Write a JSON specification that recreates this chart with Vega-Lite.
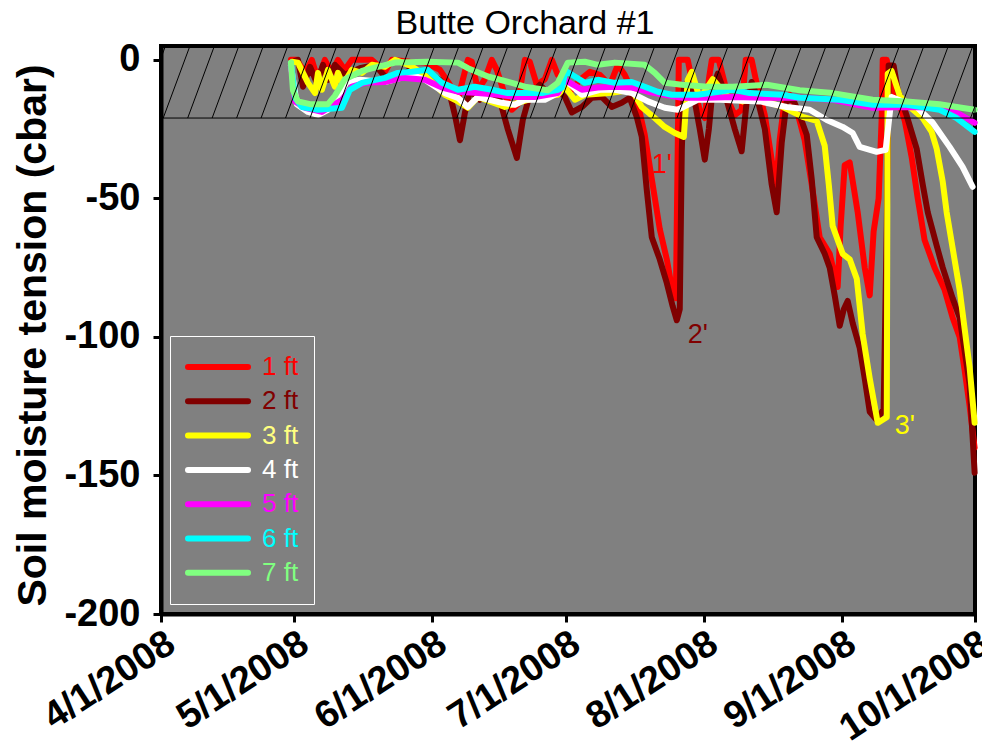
{
  "$schema": "https://vega.github.io/schema/vega-lite/v6.json",
  "width": 814,
  "height": 568,
  "autosize": {"type": "none"},
  "padding": {"left": 161, "top": 46, "right": 7, "bottom": 129},
  "background": "white",
  "config": {
    "font": "Liberation Sans",
    "view": {"fill": "#808080", "stroke": "#000000", "strokeWidth": 4}
  },
  "title": {"text": "Butte Orchard #1", "font": "Liberation Sans", "fontSize": 34, "fontWeight": "normal", "color": "#000000", "anchor": "middle", "offset": 6, "baseline": "bottom", "dx": -43, "dy": 40},
  "datasets": {
    "soil": [
      {"s":"1 ft","d":"2008/04/30 05:00","v":0},{"s":"1 ft","d":"2008/05/01 13:00","v":0},{"s":"1 ft","d":"2008/05/03 09:00","v":-4.7},{"s":"1 ft","d":"2008/05/04 22:00","v":0},{"s":"1 ft","d":"2008/05/06 07:00","v":-7.2},{"s":"1 ft","d":"2008/05/07 20:00","v":0},{"s":"1 ft","d":"2008/05/09 10:00","v":-4.7},{"s":"1 ft","d":"2008/05/10 19:00","v":0},{"s":"1 ft","d":"2008/05/12 08:00","v":-3.6},{"s":"1 ft","d":"2008/05/13 22:00","v":0},{"s":"1 ft","d":"2008/05/18 10:00","v":0},{"s":"1 ft","d":"2008/05/21 08:00","v":-4.3},{"s":"1 ft","d":"2008/05/22 22:00","v":0},{"s":"1 ft","d":"2008/05/26 23:00","v":-0.7},{"s":"1 ft","d":"2008/05/30 08:00","v":-1},{"s":"1 ft","d":"2008/06/02 17:00","v":-3.6},{"s":"1 ft","d":"2008/06/04 23:00","v":-9},{"s":"1 ft","d":"2008/06/06 18:00","v":-14.4},{"s":"1 ft","d":"2008/06/07 21:00","v":-7},{"s":"1 ft","d":"2008/06/09 00:00","v":0},{"s":"1 ft","d":"2008/06/09 21:00","v":-0.7},{"s":"1 ft","d":"2008/06/11 06:00","v":-10.8},{"s":"1 ft","d":"2008/06/12 19:00","v":-7},{"s":"1 ft","d":"2008/06/14 09:00","v":0},{"s":"1 ft","d":"2008/06/15 12:00","v":-3.6},{"s":"1 ft","d":"2008/06/17 07:00","v":-12.6},{"s":"1 ft","d":"2008/06/18 21:00","v":-18},{"s":"1 ft","d":"2008/06/20 05:00","v":-16},{"s":"1 ft","d":"2008/06/21 19:00","v":0},{"s":"1 ft","d":"2008/06/22 22:00","v":-0.7},{"s":"1 ft","d":"2008/06/24 12:00","v":-9},{"s":"1 ft","d":"2008/06/26 07:00","v":-7},{"s":"1 ft","d":"2008/06/27 21:00","v":0},{"s":"1 ft","d":"2008/06/29 05:00","v":-5.4},{"s":"1 ft","d":"2008/06/30 19:00","v":-7.2},{"s":"1 ft","d":"2008/07/02 09:00","v":-10.8},{"s":"1 ft","d":"2008/07/04 04:00","v":-7.2},{"s":"1 ft","d":"2008/07/06 10:00","v":-4.3},{"s":"1 ft","d":"2008/07/08 16:00","v":-5.4},{"s":"1 ft","d":"2008/07/10 22:00","v":-9},{"s":"1 ft","d":"2008/07/12 17:00","v":-1.8},{"s":"1 ft","d":"2008/07/14 06:00","v":-5.4},{"s":"1 ft","d":"2008/07/15 20:00","v":-10.8},{"s":"1 ft","d":"2008/07/17 05:00","v":-16},{"s":"1 ft","d":"2008/07/18 18:00","v":-27},{"s":"1 ft","d":"2008/07/20 08:00","v":-43},{"s":"1 ft","d":"2008/07/22 03:00","v":-61},{"s":"1 ft","d":"2008/07/23 17:00","v":-72},{"s":"1 ft","d":"2008/07/25 01:00","v":-84},{"s":"1 ft","d":"2008/07/25 18:00","v":-86},{"s":"1 ft","d":"2008/07/26 10:00","v":0},{"s":"1 ft","d":"2008/07/28 10:00","v":0},{"s":"1 ft","d":"2008/07/29 13:00","v":-9},{"s":"1 ft","d":"2008/07/31 03:00","v":-18},{"s":"1 ft","d":"2008/08/01 06:00","v":-21},{"s":"1 ft","d":"2008/08/02 04:00","v":-7},{"s":"1 ft","d":"2008/08/02 20:00","v":0},{"s":"1 ft","d":"2008/08/04 09:00","v":0},{"s":"1 ft","d":"2008/08/05 12:00","v":-7},{"s":"1 ft","d":"2008/08/06 21:00","v":-16},{"s":"1 ft","d":"2008/08/08 00:00","v":-20},{"s":"1 ft","d":"2008/08/09 13:00","v":-18},{"s":"1 ft","d":"2008/08/10 11:00","v":0},{"s":"1 ft","d":"2008/08/11 19:00","v":0},{"s":"1 ft","d":"2008/08/12 17:00","v":-7},{"s":"1 ft","d":"2008/08/14 18:00","v":-20},{"s":"1 ft","d":"2008/08/16 07:00","v":-36},{"s":"1 ft","d":"2008/08/17 05:00","v":-47},{"s":"1 ft","d":"2008/08/18 02:00","v":-29},{"s":"1 ft","d":"2008/08/19 05:00","v":-14.4},{"s":"1 ft","d":"2008/08/20 08:00","v":-12.6},{"s":"1 ft","d":"2008/08/21 22:00","v":-18},{"s":"1 ft","d":"2008/08/23 17:00","v":-29},{"s":"1 ft","d":"2008/08/25 07:00","v":-45},{"s":"1 ft","d":"2008/08/27 02:00","v":-64},{"s":"1 ft","d":"2008/08/29 08:00","v":-70},{"s":"1 ft","d":"2008/08/31 03:00","v":-82},{"s":"1 ft","d":"2008/08/31 19:00","v":-60},{"s":"1 ft","d":"2008/09/01 17:00","v":-38},{"s":"1 ft","d":"2008/09/02 20:00","v":-37},{"s":"1 ft","d":"2008/09/04 15:00","v":-55},{"s":"1 ft","d":"2008/09/06 05:00","v":-75},{"s":"1 ft","d":"2008/09/07 08:00","v":-85},{"s":"1 ft","d":"2008/09/08 05:00","v":-62},{"s":"1 ft","d":"2008/09/09 08:00","v":-50},{"s":"1 ft","d":"2008/09/10 01:00","v":-20},{"s":"1 ft","d":"2008/09/10 06:00","v":0},{"s":"1 ft","d":"2008/09/11 04:00","v":0},{"s":"1 ft","d":"2008/09/12 01:00","v":-9},{"s":"1 ft","d":"2008/09/13 15:00","v":-14},{"s":"1 ft","d":"2008/09/15 05:00","v":-22},{"s":"1 ft","d":"2008/09/16 18:00","v":-35},{"s":"1 ft","d":"2008/09/18 03:00","v":-50},{"s":"1 ft","d":"2008/09/19 16:00","v":-65},{"s":"1 ft","d":"2008/09/21 22:00","v":-75},{"s":"1 ft","d":"2008/09/24 04:00","v":-83},{"s":"1 ft","d":"2008/09/25 23:00","v":-93},{"s":"1 ft","d":"2008/09/27 13:00","v":-100},{"s":"1 ft","d":"2008/09/28 16:00","v":-112},{"s":"1 ft","d":"2008/09/29 19:00","v":-125},{"s":"1 ft","d":"2008/09/30 22:00","v":-140},
      {"s":"2 ft","d":"2008/04/30 11:00","v":-0.7},{"s":"2 ft","d":"2008/05/01 19:00","v":0},{"s":"2 ft","d":"2008/05/02 22:00","v":-9.7},{"s":"2 ft","d":"2008/05/04 12:00","v":-2.5},{"s":"2 ft","d":"2008/05/06 01:00","v":-8.3},{"s":"2 ft","d":"2008/05/07 10:00","v":-1.8},{"s":"2 ft","d":"2008/05/08 13:00","v":-7.2},{"s":"2 ft","d":"2008/05/10 02:00","v":-1.8},{"s":"2 ft","d":"2008/05/12 08:00","v":-5.4},{"s":"2 ft","d":"2008/05/15 17:00","v":-3},{"s":"2 ft","d":"2008/05/19 02:00","v":-1.8},{"s":"2 ft","d":"2008/05/21 08:00","v":-6},{"s":"2 ft","d":"2008/05/23 14:00","v":-7.2},{"s":"2 ft","d":"2008/05/26 23:00","v":-3.6},{"s":"2 ft","d":"2008/05/30 08:00","v":-4.3},{"s":"2 ft","d":"2008/06/02 17:00","v":-7.2},{"s":"2 ft","d":"2008/06/04 23:00","v":-12.6},{"s":"2 ft","d":"2008/06/06 02:00","v":-20},{"s":"2 ft","d":"2008/06/07 05:00","v":-29},{"s":"2 ft","d":"2008/06/08 08:00","v":-19},{"s":"2 ft","d":"2008/06/09 11:00","v":-11},{"s":"2 ft","d":"2008/06/11 16:00","v":-14.4},{"s":"2 ft","d":"2008/06/13 22:00","v":-11},{"s":"2 ft","d":"2008/06/16 04:00","v":-14.4},{"s":"2 ft","d":"2008/06/17 23:00","v":-25},{"s":"2 ft","d":"2008/06/20 00:00","v":-35.4},{"s":"2 ft","d":"2008/06/21 08:00","v":-21.7},{"s":"2 ft","d":"2008/06/22 22:00","v":-12.6},{"s":"2 ft","d":"2008/06/25 04:00","v":-9},{"s":"2 ft","d":"2008/06/27 10:00","v":-12.6},{"s":"2 ft","d":"2008/06/29 16:00","v":-11.5},{"s":"2 ft","d":"2008/06/30 19:00","v":-13.4},{"s":"2 ft","d":"2008/07/02 09:00","v":-19},{"s":"2 ft","d":"2008/07/04 15:00","v":-17},{"s":"2 ft","d":"2008/07/06 20:00","v":-13.7},{"s":"2 ft","d":"2008/07/09 02:00","v":-13.4},{"s":"2 ft","d":"2008/07/11 08:00","v":-17},{"s":"2 ft","d":"2008/07/13 14:00","v":-15.5},{"s":"2 ft","d":"2008/07/15 09:00","v":-13.7},{"s":"2 ft","d":"2008/07/16 23:00","v":-20.6},{"s":"2 ft","d":"2008/07/18 02:00","v":-27.8},{"s":"2 ft","d":"2008/07/19 05:00","v":-47},{"s":"2 ft","d":"2008/07/20 08:00","v":-64},{"s":"2 ft","d":"2008/07/22 03:00","v":-72},{"s":"2 ft","d":"2008/07/23 17:00","v":-80.5},{"s":"2 ft","d":"2008/07/25 01:00","v":-89},{"s":"2 ft","d":"2008/07/25 23:00","v":-94},{"s":"2 ft","d":"2008/07/26 15:00","v":-90},{"s":"2 ft","d":"2008/07/27 02:00","v":-32.5},{"s":"2 ft","d":"2008/07/27 13:00","v":-10},{"s":"2 ft","d":"2008/07/28 10:00","v":-8},{"s":"2 ft","d":"2008/07/30 00:00","v":-15},{"s":"2 ft","d":"2008/07/31 03:00","v":-25},{"s":"2 ft","d":"2008/08/01 06:00","v":-36},{"s":"2 ft","d":"2008/08/02 04:00","v":-25},{"s":"2 ft","d":"2008/08/03 01:00","v":-10},{"s":"2 ft","d":"2008/08/04 04:00","v":-5},{"s":"2 ft","d":"2008/08/05 18:00","v":-12},{"s":"2 ft","d":"2008/08/08 00:00","v":-25},{"s":"2 ft","d":"2008/08/09 13:00","v":-33},{"s":"2 ft","d":"2008/08/10 16:00","v":-15},{"s":"2 ft","d":"2008/08/11 19:00","v":-8},{"s":"2 ft","d":"2008/08/12 22:00","v":-13},{"s":"2 ft","d":"2008/08/14 18:00","v":-25},{"s":"2 ft","d":"2008/08/16 07:00","v":-45},{"s":"2 ft","d":"2008/08/17 10:00","v":-55},{"s":"2 ft","d":"2008/08/18 13:00","v":-30},{"s":"2 ft","d":"2008/08/19 16:00","v":-15},{"s":"2 ft","d":"2008/08/21 01:00","v":-14},{"s":"2 ft","d":"2008/08/22 14:00","v":-20},{"s":"2 ft","d":"2008/08/24 04:00","v":-27},{"s":"2 ft","d":"2008/08/25 07:00","v":-43},{"s":"2 ft","d":"2008/08/26 10:00","v":-64},{"s":"2 ft","d":"2008/08/28 05:00","v":-70},{"s":"2 ft","d":"2008/08/29 08:00","v":-75},{"s":"2 ft","d":"2008/08/30 11:00","v":-85},{"s":"2 ft","d":"2008/08/31 14:00","v":-96},{"s":"2 ft","d":"2008/09/01 12:00","v":-90},{"s":"2 ft","d":"2008/09/02 09:00","v":-87},{"s":"2 ft","d":"2008/09/03 12:00","v":-95},{"s":"2 ft","d":"2008/09/05 02:00","v":-104},{"s":"2 ft","d":"2008/09/06 05:00","v":-115},{"s":"2 ft","d":"2008/09/07 08:00","v":-127},{"s":"2 ft","d":"2008/09/08 22:00","v":-130},{"s":"2 ft","d":"2008/09/10 11:00","v":-126},{"s":"2 ft","d":"2008/09/11 04:00","v":-60},{"s":"2 ft","d":"2008/09/11 14:00","v":-2},{"s":"2 ft","d":"2008/09/12 17:00","v":-2},{"s":"2 ft","d":"2008/09/13 15:00","v":-11},{"s":"2 ft","d":"2008/09/15 15:00","v":-20},{"s":"2 ft","d":"2008/09/17 21:00","v":-32},{"s":"2 ft","d":"2008/09/19 06:00","v":-45},{"s":"2 ft","d":"2008/09/20 09:00","v":-55},{"s":"2 ft","d":"2008/09/22 09:00","v":-67},{"s":"2 ft","d":"2008/09/23 18:00","v":-75},{"s":"2 ft","d":"2008/09/25 23:00","v":-86},{"s":"2 ft","d":"2008/09/27 13:00","v":-93},{"s":"2 ft","d":"2008/09/28 16:00","v":-105},{"s":"2 ft","d":"2008/09/29 19:00","v":-117},{"s":"2 ft","d":"2008/09/30 22:00","v":-149},
      {"s":"3 ft","d":"2008/04/30 11:00","v":-0.7},{"s":"3 ft","d":"2008/05/01 19:00","v":-1},{"s":"3 ft","d":"2008/05/04 01:00","v":-8.3},{"s":"3 ft","d":"2008/05/05 15:00","v":-12},{"s":"3 ft","d":"2008/05/06 07:00","v":-4.7},{"s":"3 ft","d":"2008/05/07 04:00","v":-10.8},{"s":"3 ft","d":"2008/05/08 13:00","v":-3.6},{"s":"3 ft","d":"2008/05/10 02:00","v":-9.7},{"s":"3 ft","d":"2008/05/10 19:00","v":-4.7},{"s":"3 ft","d":"2008/05/11 22:00","v":-9},{"s":"3 ft","d":"2008/05/13 22:00","v":-3.6},{"s":"3 ft","d":"2008/05/16 04:00","v":-4.7},{"s":"3 ft","d":"2008/05/18 10:00","v":-1.8},{"s":"3 ft","d":"2008/05/21 08:00","v":-2.5},{"s":"3 ft","d":"2008/05/23 14:00","v":0},{"s":"3 ft","d":"2008/05/26 23:00","v":-2},{"s":"3 ft","d":"2008/05/30 08:00","v":-5.4},{"s":"3 ft","d":"2008/06/03 20:00","v":-12.6},{"s":"3 ft","d":"2008/06/06 18:00","v":-15},{"s":"3 ft","d":"2008/06/09 00:00","v":-17.3},{"s":"3 ft","d":"2008/06/11 06:00","v":-13.4},{"s":"3 ft","d":"2008/06/17 07:00","v":-17},{"s":"3 ft","d":"2008/06/20 05:00","v":-15.5},{"s":"3 ft","d":"2008/06/24 01:00","v":-13.7},{"s":"3 ft","d":"2008/06/29 05:00","v":-12.6},{"s":"3 ft","d":"2008/06/30 19:00","v":-9.7},{"s":"3 ft","d":"2008/07/03 01:00","v":-14.4},{"s":"3 ft","d":"2008/07/05 07:00","v":-12.6},{"s":"3 ft","d":"2008/07/10 22:00","v":-12},{"s":"3 ft","d":"2008/07/15 20:00","v":-10.8},{"s":"3 ft","d":"2008/07/18 02:00","v":-17},{"s":"3 ft","d":"2008/07/21 00:00","v":-21},{"s":"3 ft","d":"2008/07/23 06:00","v":-24.2},{"s":"3 ft","d":"2008/07/25 12:00","v":-26.4},{"s":"3 ft","d":"2008/07/27 13:00","v":-27.8},{"s":"3 ft","d":"2008/07/28 10:00","v":-7.2},{"s":"3 ft","d":"2008/07/29 08:00","v":-4.3},{"s":"3 ft","d":"2008/07/31 03:00","v":-14},{"s":"3 ft","d":"2008/08/03 01:00","v":-7},{"s":"3 ft","d":"2008/08/06 05:00","v":-13},{"s":"3 ft","d":"2008/08/09 19:00","v":-15},{"s":"3 ft","d":"2008/08/12 22:00","v":-14},{"s":"3 ft","d":"2008/08/18 19:00","v":-17},{"s":"3 ft","d":"2008/08/23 06:00","v":-20.6},{"s":"3 ft","d":"2008/08/26 10:00","v":-22},{"s":"3 ft","d":"2008/08/28 05:00","v":-31},{"s":"3 ft","d":"2008/08/29 03:00","v":-45},{"s":"3 ft","d":"2008/08/30 00:00","v":-60},{"s":"3 ft","d":"2008/09/01 06:00","v":-70},{"s":"3 ft","d":"2008/09/02 20:00","v":-72},{"s":"3 ft","d":"2008/09/04 10:00","v":-79},{"s":"3 ft","d":"2008/09/05 18:00","v":-99},{"s":"3 ft","d":"2008/09/07 08:00","v":-115},{"s":"3 ft","d":"2008/09/09 03:00","v":-131},{"s":"3 ft","d":"2008/09/11 04:00","v":-129},{"s":"3 ft","d":"2008/09/11 09:00","v":-5},{"s":"3 ft","d":"2008/09/12 06:00","v":-4},{"s":"3 ft","d":"2008/09/14 02:00","v":-13},{"s":"3 ft","d":"2008/09/16 08:00","v":-17},{"s":"3 ft","d":"2008/09/19 06:00","v":-21},{"s":"3 ft","d":"2008/09/21 06:00","v":-26},{"s":"3 ft","d":"2008/09/22 09:00","v":-32},{"s":"3 ft","d":"2008/09/23 18:00","v":-44},{"s":"3 ft","d":"2008/09/24 15:00","v":-55},{"s":"3 ft","d":"2008/09/27 13:00","v":-83},{"s":"3 ft","d":"2008/09/29 19:00","v":-111},{"s":"3 ft","d":"2008/09/30 22:00","v":-131},
      {"s":"4 ft","d":"2008/04/30 05:00","v":-2},{"s":"4 ft","d":"2008/05/01 13:00","v":-16},{"s":"4 ft","d":"2008/05/04 01:00","v":-18.8},{"s":"4 ft","d":"2008/05/06 07:00","v":-19.9},{"s":"4 ft","d":"2008/05/08 13:00","v":-18},{"s":"4 ft","d":"2008/05/10 19:00","v":-13.4},{"s":"4 ft","d":"2008/05/12 19:00","v":-8},{"s":"4 ft","d":"2008/05/15 17:00","v":-7.2},{"s":"4 ft","d":"2008/05/21 08:00","v":-8},{"s":"4 ft","d":"2008/05/27 10:00","v":-5.4},{"s":"4 ft","d":"2008/05/30 08:00","v":-7.2},{"s":"4 ft","d":"2008/06/03 20:00","v":-12},{"s":"4 ft","d":"2008/06/06 18:00","v":-13.7},{"s":"4 ft","d":"2008/06/09 00:00","v":-17},{"s":"4 ft","d":"2008/06/11 06:00","v":-13.4},{"s":"4 ft","d":"2008/06/16 15:00","v":-15.5},{"s":"4 ft","d":"2008/06/19 13:00","v":-16.2},{"s":"4 ft","d":"2008/06/21 19:00","v":-14.4},{"s":"4 ft","d":"2008/06/26 07:00","v":-14.4},{"s":"4 ft","d":"2008/06/29 05:00","v":-12},{"s":"4 ft","d":"2008/06/30 19:00","v":-7.2},{"s":"4 ft","d":"2008/07/04 15:00","v":-12.6},{"s":"4 ft","d":"2008/07/08 16:00","v":-10.8},{"s":"4 ft","d":"2008/07/12 01:00","v":-10.8},{"s":"4 ft","d":"2008/07/15 20:00","v":-12},{"s":"4 ft","d":"2008/07/19 11:00","v":-15},{"s":"4 ft","d":"2008/07/23 06:00","v":-17.3},{"s":"4 ft","d":"2008/07/26 04:00","v":-18},{"s":"4 ft","d":"2008/07/28 10:00","v":-16.2},{"s":"4 ft","d":"2008/07/30 16:00","v":-14.4},{"s":"4 ft","d":"2008/08/04 15:00","v":-14.4},{"s":"4 ft","d":"2008/08/13 15:00","v":-15},{"s":"4 ft","d":"2008/08/19 16:00","v":-17},{"s":"4 ft","d":"2008/08/24 20:00","v":-18},{"s":"4 ft","d":"2008/08/28 16:00","v":-21.7},{"s":"4 ft","d":"2008/09/01 06:00","v":-24.2},{"s":"4 ft","d":"2008/09/03 12:00","v":-26.4},{"s":"4 ft","d":"2008/09/05 02:00","v":-31.4},{"s":"4 ft","d":"2008/09/08 22:00","v":-33.2},{"s":"4 ft","d":"2008/09/10 22:00","v":-32.5},{"s":"4 ft","d":"2008/09/12 06:00","v":-13.4},{"s":"4 ft","d":"2008/09/17 21:00","v":-17},{"s":"4 ft","d":"2008/09/21 12:00","v":-22.7},{"s":"4 ft","d":"2008/09/25 07:00","v":-31.4},{"s":"4 ft","d":"2008/09/28 05:00","v":-38.6},{"s":"4 ft","d":"2008/09/30 11:00","v":-45.8},
      {"s":"5 ft","d":"2008/04/30 05:00","v":-2},{"s":"5 ft","d":"2008/05/01 03:00","v":-15},{"s":"5 ft","d":"2008/05/03 09:00","v":-17.3},{"s":"5 ft","d":"2008/05/07 04:00","v":-18.8},{"s":"5 ft","d":"2008/05/11 16:00","v":-14.4},{"s":"5 ft","d":"2008/05/13 22:00","v":-9.7},{"s":"5 ft","d":"2008/05/16 20:00","v":-8.3},{"s":"5 ft","d":"2008/05/21 08:00","v":-8},{"s":"5 ft","d":"2008/05/25 04:00","v":-6.5},{"s":"5 ft","d":"2008/05/30 08:00","v":-7.2},{"s":"5 ft","d":"2008/06/03 04:00","v":-10},{"s":"5 ft","d":"2008/06/06 18:00","v":-11.5},{"s":"5 ft","d":"2008/06/11 06:00","v":-12},{"s":"5 ft","d":"2008/06/15 18:00","v":-12.6},{"s":"5 ft","d":"2008/06/20 05:00","v":-13.4},{"s":"5 ft","d":"2008/06/24 01:00","v":-13.4},{"s":"5 ft","d":"2008/06/29 05:00","v":-12},{"s":"5 ft","d":"2008/06/30 19:00","v":-7.2},{"s":"5 ft","d":"2008/07/04 15:00","v":-10.8},{"s":"5 ft","d":"2008/07/08 05:00","v":-10},{"s":"5 ft","d":"2008/07/12 01:00","v":-9.7},{"s":"5 ft","d":"2008/07/15 20:00","v":-10},{"s":"5 ft","d":"2008/07/19 11:00","v":-11.5},{"s":"5 ft","d":"2008/07/23 06:00","v":-12.6},{"s":"5 ft","d":"2008/07/27 02:00","v":-13.7},{"s":"5 ft","d":"2008/08/01 22:00","v":-13.7},{"s":"5 ft","d":"2008/08/07 13:00","v":-13.4},{"s":"5 ft","d":"2008/08/15 04:00","v":-13.7},{"s":"5 ft","d":"2008/08/22 14:00","v":-13.7},{"s":"5 ft","d":"2008/08/30 00:00","v":-14.4},{"s":"5 ft","d":"2008/09/08 00:00","v":-17.3},{"s":"5 ft","d":"2008/09/15 15:00","v":-17},{"s":"5 ft","d":"2008/09/23 01:00","v":-17.3},{"s":"5 ft","d":"2008/09/26 21:00","v":-19},{"s":"5 ft","d":"2008/09/30 22:00","v":-22.7},
      {"s":"6 ft","d":"2008/04/30 05:00","v":-1},{"s":"6 ft","d":"2008/05/01 03:00","v":-13.7},{"s":"6 ft","d":"2008/05/02 16:00","v":-17},{"s":"6 ft","d":"2008/05/06 07:00","v":-18},{"s":"6 ft","d":"2008/05/11 16:00","v":-17.3},{"s":"6 ft","d":"2008/05/13 11:00","v":-10.8},{"s":"6 ft","d":"2008/05/16 04:00","v":-8.3},{"s":"6 ft","d":"2008/05/21 08:00","v":-6.5},{"s":"6 ft","d":"2008/05/24 06:00","v":-4.7},{"s":"6 ft","d":"2008/05/27 10:00","v":-4.3},{"s":"6 ft","d":"2008/05/31 00:00","v":-3.6},{"s":"6 ft","d":"2008/06/03 04:00","v":-8.3},{"s":"6 ft","d":"2008/06/06 18:00","v":-10.8},{"s":"6 ft","d":"2008/06/10 13:00","v":-9.7},{"s":"6 ft","d":"2008/06/14 09:00","v":-10.8},{"s":"6 ft","d":"2008/06/17 23:00","v":-12},{"s":"6 ft","d":"2008/06/25 15:00","v":-12},{"s":"6 ft","d":"2008/06/29 05:00","v":-10.8},{"s":"6 ft","d":"2008/06/30 03:00","v":-10},{"s":"6 ft","d":"2008/07/01 00:00","v":-4},{"s":"6 ft","d":"2008/07/03 01:00","v":-6},{"s":"6 ft","d":"2008/07/05 07:00","v":-8.3},{"s":"6 ft","d":"2008/07/08 05:00","v":-7.2},{"s":"6 ft","d":"2008/07/12 01:00","v":-8.3},{"s":"6 ft","d":"2008/07/15 20:00","v":-8},{"s":"6 ft","d":"2008/07/18 18:00","v":-9.7},{"s":"6 ft","d":"2008/07/21 16:00","v":-11.5},{"s":"6 ft","d":"2008/07/24 20:00","v":-12.6},{"s":"6 ft","d":"2008/07/30 16:00","v":-12.6},{"s":"6 ft","d":"2008/08/07 13:00","v":-10.8},{"s":"6 ft","d":"2008/08/11 09:00","v":-12},{"s":"6 ft","d":"2008/08/18 19:00","v":-12.6},{"s":"6 ft","d":"2008/08/22 14:00","v":-13.7},{"s":"6 ft","d":"2008/08/31 14:00","v":-14.4},{"s":"6 ft","d":"2008/09/08 00:00","v":-16.2},{"s":"6 ft","d":"2008/09/15 15:00","v":-16.2},{"s":"6 ft","d":"2008/09/23 01:00","v":-18},{"s":"6 ft","d":"2008/09/26 21:00","v":-21},{"s":"6 ft","d":"2008/09/30 22:00","v":-26},
      {"s":"7 ft","d":"2008/04/30 05:00","v":-1},{"s":"7 ft","d":"2008/04/30 16:00","v":-11},{"s":"7 ft","d":"2008/05/01 19:00","v":-15},{"s":"7 ft","d":"2008/05/04 12:00","v":-16},{"s":"7 ft","d":"2008/05/08 13:00","v":-16},{"s":"7 ft","d":"2008/05/10 02:00","v":-13},{"s":"7 ft","d":"2008/05/12 08:00","v":-7},{"s":"7 ft","d":"2008/05/16 04:00","v":-4},{"s":"7 ft","d":"2008/05/19 18:00","v":-2.5},{"s":"7 ft","d":"2008/05/23 14:00","v":-1},{"s":"7 ft","d":"2008/05/31 00:00","v":-0.7},{"s":"7 ft","d":"2008/06/06 18:00","v":-1},{"s":"7 ft","d":"2008/06/09 00:00","v":-3},{"s":"7 ft","d":"2008/06/13 12:00","v":-6},{"s":"7 ft","d":"2008/06/18 21:00","v":-8.3},{"s":"7 ft","d":"2008/06/21 19:00","v":-9.7},{"s":"7 ft","d":"2008/06/26 23:00","v":-11},{"s":"7 ft","d":"2008/06/29 05:00","v":-8.3},{"s":"7 ft","d":"2008/07/01 11:00","v":-1},{"s":"7 ft","d":"2008/07/05 07:00","v":-0.7},{"s":"7 ft","d":"2008/07/08 05:00","v":-1.8},{"s":"7 ft","d":"2008/07/12 01:00","v":-1},{"s":"7 ft","d":"2008/07/18 18:00","v":-1.8},{"s":"7 ft","d":"2008/07/21 00:00","v":-4.7},{"s":"7 ft","d":"2008/07/23 06:00","v":-8.3},{"s":"7 ft","d":"2008/07/27 02:00","v":-9},{"s":"7 ft","d":"2008/08/01 22:00","v":-9.7},{"s":"7 ft","d":"2008/08/07 13:00","v":-9.7},{"s":"7 ft","d":"2008/08/15 04:00","v":-9},{"s":"7 ft","d":"2008/08/22 14:00","v":-11},{"s":"7 ft","d":"2008/08/30 00:00","v":-12},{"s":"7 ft","d":"2008/09/08 00:00","v":-14.4},{"s":"7 ft","d":"2008/09/15 15:00","v":-15},{"s":"7 ft","d":"2008/09/23 01:00","v":-16},{"s":"7 ft","d":"2008/09/26 21:00","v":-17},{"s":"7 ft","d":"2008/09/30 22:00","v":-18}
    ],
    "hatch": [
      {"a":"2008/03/27 00:00","b":"2008/04/02 00:00"},{"a":"2008/04/01 12:00","b":"2008/04/07 12:00"},{"a":"2008/04/07 00:00","b":"2008/04/13 00:00"},{"a":"2008/04/12 12:00","b":"2008/04/18 12:00"},{"a":"2008/04/18 00:00","b":"2008/04/24 00:00"},{"a":"2008/04/23 12:00","b":"2008/04/29 12:00"},{"a":"2008/04/29 00:00","b":"2008/05/05 00:00"},{"a":"2008/05/04 12:00","b":"2008/05/10 12:00"},{"a":"2008/05/10 00:00","b":"2008/05/16 00:00"},{"a":"2008/05/15 12:00","b":"2008/05/21 12:00"},{"a":"2008/05/21 00:00","b":"2008/05/27 00:00"},{"a":"2008/05/26 12:00","b":"2008/06/01 12:00"},{"a":"2008/06/01 00:00","b":"2008/06/07 00:00"},{"a":"2008/06/06 12:00","b":"2008/06/12 12:00"},{"a":"2008/06/12 00:00","b":"2008/06/18 00:00"},{"a":"2008/06/17 12:00","b":"2008/06/23 12:00"},{"a":"2008/06/23 00:00","b":"2008/06/29 00:00"},{"a":"2008/06/28 12:00","b":"2008/07/04 12:00"},{"a":"2008/07/04 00:00","b":"2008/07/10 00:00"},{"a":"2008/07/09 12:00","b":"2008/07/15 12:00"},{"a":"2008/07/15 00:00","b":"2008/07/21 00:00"},{"a":"2008/07/20 12:00","b":"2008/07/26 12:00"},{"a":"2008/07/26 00:00","b":"2008/08/01 00:00"},{"a":"2008/07/31 12:00","b":"2008/08/06 12:00"},{"a":"2008/08/06 00:00","b":"2008/08/12 00:00"},{"a":"2008/08/11 12:00","b":"2008/08/17 12:00"},{"a":"2008/08/17 00:00","b":"2008/08/23 00:00"},{"a":"2008/08/22 12:00","b":"2008/08/28 12:00"},{"a":"2008/08/28 00:00","b":"2008/09/03 00:00"},{"a":"2008/09/02 12:00","b":"2008/09/08 12:00"},{"a":"2008/09/08 00:00","b":"2008/09/14 00:00"},{"a":"2008/09/13 12:00","b":"2008/09/19 12:00"},{"a":"2008/09/19 00:00","b":"2008/09/25 00:00"},{"a":"2008/09/24 12:00","b":"2008/09/30 12:00"},{"a":"2008/09/30 00:00","b":"2008/10/06 00:00"}
    ],
    "notes": [
      {"s":"1 ft","d":"2008/07/22 14:00","v":-37.9,"t":"1'"},
      {"s":"2 ft","d":"2008/07/30 16:00","v":-99.3,"t":"2'"},
      {"s":"3 ft","d":"2008/09/15 05:00","v":-132.1,"t":"3'"}
    ]
  },
  "layer": [
    {
      "data": {"name": "soil"},
      "mark": {"type": "line", "strokeWidth": 6, "strokeJoin": "round", "strokeCap": "round"},
      "encoding": {
        "x": {
          "field": "d", "type": "temporal",
          "scale": {"domain": [{"year": 2008, "month": 4, "date": 1}, {"year": 2008, "month": 10, "date": 1}], "nice": false},
          "axis": {
            "title": null, "grid": false,
            "values": [{"year": 2008, "month": 4, "date": 1}, {"year": 2008, "month": 5, "date": 1}, {"year": 2008, "month": 6, "date": 1}, {"year": 2008, "month": 7, "date": 1}, {"year": 2008, "month": 8, "date": 1}, {"year": 2008, "month": 9, "date": 1}, {"year": 2008, "month": 10, "date": 1}],
            "format": "%-m/%-d/%Y",
            "labelAngle": -33, "labelAlign": "right", "labelBaseline": "top",
            "labelFont": "Liberation Sans", "labelFontSize": 38, "labelFontWeight": "bold", "labelColor": "#000000",
            "labelPadding": 2, "labelOverlap": false, "labelFlush": false, "labelBound": false,
            "domainColor": "#000000", "domainWidth": 4,
            "tickColor": "#000000", "tickWidth": 3, "tickSize": 8
          }
        },
        "y": {
          "field": "v", "type": "quantitative",
          "scale": {"domain": [-200, 5], "nice": false, "zero": false},
          "axis": {
            "title": "Soil moisture tension (cbar)", "grid": false,
            "values": [-200, -150, -100, -50, 0],
            "labelExpr": "'' + datum.value",
            "labelFont": "Liberation Sans", "labelFontSize": 38, "labelFontWeight": "bold", "labelColor": "#000000",
            "labelPadding": 13, "labelFlush": false, "labelOverlap": false,
            "titleFont": "Liberation Sans", "titleFontSize": 41, "titleFontWeight": "bold", "titleColor": "#000000",
            "titleAngle": -90, "titleX": -128, "titleY": 289, "titleAlign": "center", "titleBaseline": "middle",
            "domainColor": "#000000", "domainWidth": 4,
            "tickColor": "#000000", "tickWidth": 3, "tickSize": 8
          }
        },
        "color": {
          "field": "s", "type": "nominal",
          "scale": {"domain": ["1 ft", "2 ft", "3 ft", "4 ft", "5 ft", "6 ft", "7 ft"], "range": ["#ff0000", "#800000", "#ffff00", "#ffffff", "#ff00ff", "#00ffff", "#80ff80"]},
          "legend": {
            "orient": "none", "legendX": 9, "legendY": 290, "title": null,
            "symbolType": "stroke", "symbolSize": 3600, "symbolStrokeWidth": 6,
            "clipHeight": 32, "rowPadding": 2.3,
            "labelFont": "Liberation Sans", "labelFontSize": 26, "labelOffset": 11,
            "padding": 15, "strokeColor": "#ffffff", "fillColor": "#808080",
            "encode": {
              "symbols": {"update": {"strokeCap": {"value": "round"}}},
              "labels": {"update": {"fill": {"signal": "{'1 ft':'#ff0000','2 ft':'#800000','3 ft':'#ffff80','4 ft':'#ffffff','5 ft':'#ff00ff','6 ft':'#00ffff','7 ft':'#80ff80'}[datum.value]"}}}
            }
          }
        }
      }
    },
    {
      "data": {"values": [{"lo": -21, "hi": 5}]},
      "mark": {"type": "rect", "fill": null, "fillOpacity": 0, "stroke": "#000000", "strokeWidth": 1},
      "encoding": {
        "y": {"field": "lo", "type": "quantitative"},
        "y2": {"field": "hi"}
      }
    },
    {
      "data": {"name": "hatch"},
      "mark": {"type": "rule", "color": "#000000", "strokeWidth": 1, "clip": true},
      "encoding": {
        "x": {"field": "a", "type": "temporal"},
        "x2": {"field": "b"},
        "y": {"datum": -21},
        "y2": {"datum": 5}
      }
    },
    {
      "data": {"name": "notes"},
      "mark": {"type": "text", "fontSize": 27, "font": "Liberation Sans", "align": "center", "baseline": "middle"},
      "encoding": {
        "x": {"field": "d", "type": "temporal"},
        "y": {"field": "v", "type": "quantitative"},
        "text": {"field": "t"},
        "color": {"field": "s", "type": "nominal", "legend": null}
      }
    }
  ]
}
